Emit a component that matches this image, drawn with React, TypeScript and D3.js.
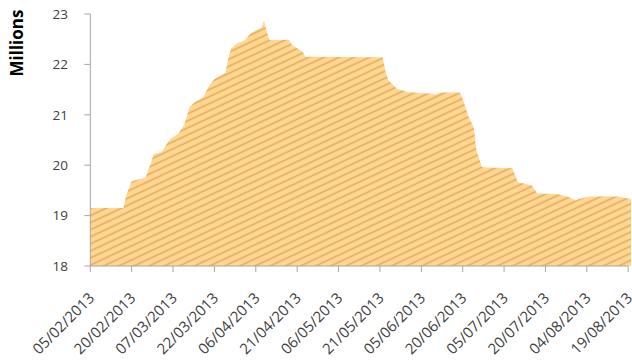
import React from "react";
import * as d3 from "d3";

// Daily readings (millions), sampled at the dates where the level changes
const dates = [
  "05/02/2013", "17/02/2013", "18/02/2013", "20/02/2013", "25/02/2013", "27/02/2013",
  "28/02/2013", "03/03/2013", "05/03/2013", "06/03/2013", "09/03/2013", "11/03/2013",
  "13/03/2013", "15/03/2013", "18/03/2013", "20/03/2013", "22/03/2013", "26/03/2013",
  "27/03/2013", "28/03/2013", "30/03/2013", "02/04/2013", "04/04/2013", "06/04/2013",
  "08/04/2013", "09/04/2013", "10/04/2013", "11/04/2013", "18/04/2013", "19/04/2013",
  "23/04/2013", "24/04/2013", "22/05/2013", "23/05/2013", "24/05/2013", "27/05/2013",
  "31/05/2013", "09/06/2013", "10/06/2013", "12/06/2013", "19/06/2013", "20/06/2013",
  "22/06/2013", "24/06/2013", "25/06/2013", "27/06/2013", "08/07/2013", "10/07/2013",
  "15/07/2013", "17/07/2013", "24/07/2013", "28/07/2013", "31/07/2013", "01/08/2013",
  "05/08/2013", "15/08/2013", "20/08/2013",
];

const values = [
  19.15, 19.15, 19.4, 19.68, 19.75, 20.05,
  20.22, 20.26, 20.45, 20.52, 20.63, 20.8,
  21.15, 21.26, 21.35, 21.57, 21.71, 21.84,
  22.11, 22.31, 22.41, 22.48, 22.61, 22.68,
  22.72, 22.86, 22.65, 22.48, 22.49, 22.39,
  22.25, 22.15, 22.14, 21.86, 21.69, 21.52,
  21.45, 21.42, 21.4, 21.44, 21.44, 21.32,
  20.98, 20.75, 20.29, 19.96, 19.94, 19.66,
  19.6, 19.44, 19.43, 19.38, 19.3, 19.33,
  19.38, 19.38, 19.33,
];

const xTickLabels = [
  "05/02/2013", "20/02/2013", "07/03/2013", "22/03/2013", "06/04/2013", "21/04/2013",
  "06/05/2013", "21/05/2013", "05/06/2013", "20/06/2013", "05/07/2013", "20/07/2013",
  "04/08/2013", "19/08/2013",
];

const yTicks = [18, 19, 20, 21, 22, 23];

const parse = d3.timeParse("%d/%m/%Y");

const W = 632;
const H = 364;
const left = 90.3;
const right = 628.2;
const top = 14;
const bottom = 266;

export default function App() {
  const points = dates.map((d, i) => ({ date: parse(d) as Date, value: values[i] }));
  const tickDates = xTickLabels.map((t) => parse(t) as Date);

  const x = d3
    .scaleTime()
    .domain([tickDates[0], tickDates[tickDates.length - 1]])
    .range([left, right]);
  const y = d3.scaleLinear().domain([18, 23]).range([bottom, top]);

  const area = d3
    .area<{ date: Date; value: number }>()
    .x((p) => x(p.date))
    .y0(y(18))
    .y1((p) => y(p.value))
    .curve(d3.curveLinear);

  const font = "'Open Sans', 'DejaVu Sans', sans-serif";

  return (
    <svg
      width={W}
      height={H}
      style={{ position: "absolute", left: 0, top: 0, background: "#fff" }}
    >
      <defs>
        <pattern
          id="hatch"
          width={7}
          height={6.4}
          patternUnits="userSpaceOnUse"
          patternTransform="rotate(-25)"
        >
          <rect width={7} height={6.4} fill="#FFD692" />
          <line x1={0} x2={7} y1={3.2} y2={3.2} stroke="#E3AA58" strokeWidth={1.5} />
        </pattern>
      </defs>

      <path d={area(points) || ""} fill="url(#hatch)" />

      {/* y axis */}
      <line x1={left} x2={left} y1={top} y2={bottom} stroke="#a6a6a6" strokeWidth={1} />
      {yTicks.map((t) => (
        <g key={t}>
          <line x1={left - 6} x2={left} y1={y(t)} y2={y(t)} stroke="#a6a6a6" strokeWidth={1} />
          <text
            x={68}
            y={y(t)}
            dy="0.35em"
            textAnchor="end"
            fontFamily={font}
            fontSize={13.5}
            fill="#404040"
          >
            {t}
          </text>
        </g>
      ))}

      {/* x axis */}
      <line x1={left} x2={right} y1={bottom} y2={bottom} stroke="#a6a6a6" strokeWidth={1} />
      {tickDates.map((d, i) => {
        const tx = x(d);
        return (
          <g key={xTickLabels[i]}>
            <line x1={tx} x2={tx} y1={bottom} y2={bottom + 6} stroke="#a6a6a6" strokeWidth={1} />
            <text
              transform={`translate(${tx + 5},${bottom + 33}) rotate(-45)`}
              textAnchor="end"
              fontFamily={font}
              fontSize={15}
              fill="#404040"
            >
              {xTickLabels[i]}
            </text>
          </g>
        );
      })}

      <text
        transform={`translate(23,43) rotate(-90)`}
        textAnchor="middle"
        fontFamily={font}
        fontSize={17}
        fontWeight="bold"
        fill="#000"
      >
        Millions
      </text>
    </svg>
  );
}
